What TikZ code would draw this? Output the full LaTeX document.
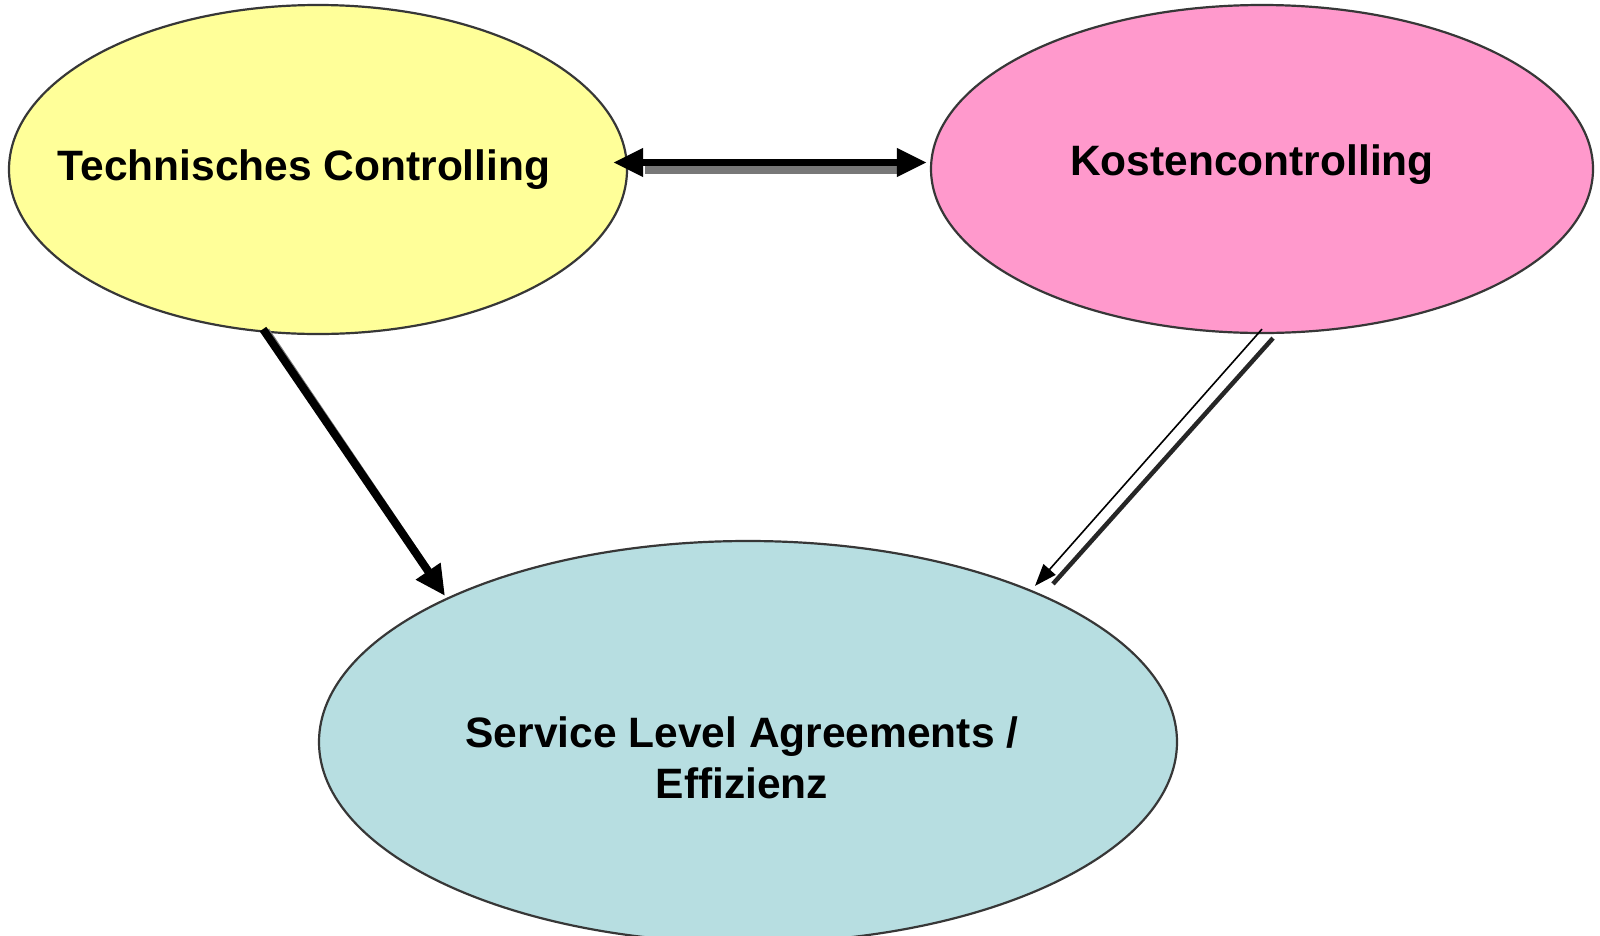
\documentclass[tikz,border=0pt]{standalone}
\usepackage{fontspec}
\setmainfont{Liberation Sans}
\usetikzlibrary{shapes.geometric,arrows.meta,calc}
\definecolor{techfill}{RGB}{255,255,153}
\definecolor{costfill}{RGB}{255,153,204}
\definecolor{slafill}{RGB}{183,222,225}
\definecolor{rimgray}{RGB}{55,55,55}
\definecolor{shadowgray}{RGB}{120,120,120}
\tikzset{
  topic/.style={ellipse, draw=rimgray, line width=2.2pt, inner sep=0pt},
  caption/.style={font=\fontsize{42.5}{51}\selectfont\bfseries, anchor=base, align=center, inner sep=0pt},
  boldarrow/.style={line width=8pt, -{Triangle[length=30pt,width=28pt]}},
  boldarrows/.style={line width=7pt, {Triangle[length=30pt,width=27pt]}-{Triangle[length=30pt,width=27pt]}},
  thinarrow/.style={line width=1.6pt, -{Triangle[length=22pt,width=16pt]}},
  shadowline/.style={line width=7pt, shadowgray},
}
\begin{document}
\begin{tikzpicture}[x=1pt,y=-1pt]
\clip (0,0) rectangle (1600,935);
\fill[white] (0,0) rectangle (1600,935);

% the three topic ellipses
\node[topic, fill=techfill, minimum width=618pt, minimum height=329pt] (tech) at (318,169.5) {};
\node[topic, fill=costfill, minimum width=662pt, minimum height=328pt] (kosten) at (1262,169) {};
\node[topic, fill=slafill, minimum width=858pt, minimum height=402pt] (sla) at (748,742) {};

% captions (base anchor sits on the last line)
\node[caption] (techtext) at (304,180) {Technisches Controlling};
\node[caption] (kostentext) at (1252,175) {Kostencontrolling};
\node[caption] (slatext) at (742,798) {Service Level Agreements /\\Effizienz};

% end points of the connectors on the ellipse rims
\coordinate (h1) at ($(tech.east)+(-15,-7)$);
\coordinate (h2) at ($(kosten.west)+(-3,-6.5)$);
\coordinate (d1) at ($(tech.south)+(-55,-6)$);
\coordinate (d2) at ($(sla.north)+(-303,56)$);
\coordinate (k1) at ($(kosten.south)+(0,-5)$);
\coordinate (k2) at ($(sla.north)+(287,46)$);
\coordinate (k3) at ($(kosten.south)+(11,4)$);
\coordinate (k4) at ($(sla.north)+(305,44)$);

% technical controlling <-> cost controlling
\draw[shadowline, line width=8pt] ($(h1)+(32,7.5)$) -- ($(h2)+(-25,7.5)$);
\draw[boldarrows] (h1) -- (h2);

% technical controlling -> service levels
\draw[shadowline, line width=5pt] ($(d1)+(4,1)$) -- ($(d2)+(-12,-20)$);
\draw[boldarrow] (d1) -- (d2);

% cost controlling -> service levels
\draw[line width=4.5pt, black!85] (k3) -- (k4);
\draw[thinarrow] (k1) -- (k2);
\end{tikzpicture}
\end{document}
